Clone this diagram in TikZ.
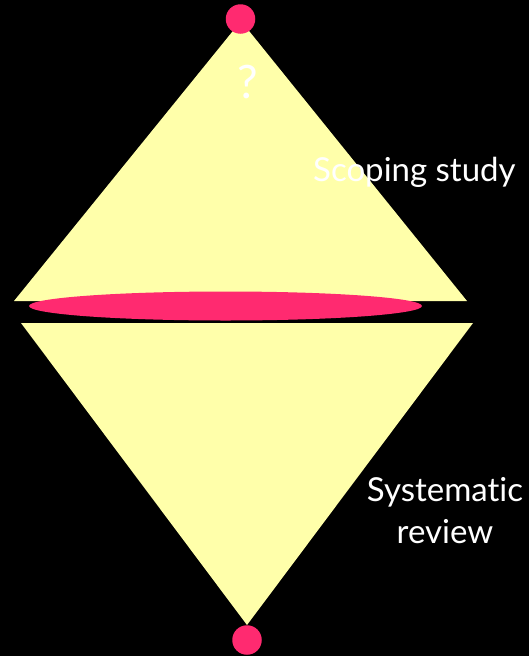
\documentclass[tikz,border=0pt]{standalone}
\usepackage{fontspec}
\setmainfont{Lato}[Ligatures=NoCommon]
\usetikzlibrary{shapes.geometric}
\definecolor{coneyellow}{RGB}{255,255,170}
\definecolor{dotpink}{RGB}{255,42,112}
\tikzset{
  cone/.style={fill=coneyellow, draw=none},
  dot/.style={circle, fill=dotpink, draw=none, inner sep=0pt, minimum size=29.5pt},
  label/.style={text=white, inner sep=0pt}
}
\begin{document}
\begin{tikzpicture}[x=1pt, y=-1pt]
\fill[black] (0,0) rectangle (529,656);
\useasboundingbox (0,0) rectangle (529,656);
% upper and lower triangles
\coordinate (topapex) at (241,21);
\coordinate (upleft) at (14,301);
\coordinate (upright) at (467,301);
\coordinate (lowleft) at (21,323);
\coordinate (lowright) at (473,323);
\coordinate (lowapex) at (247,625);
\fill[cone] (topapex) -- (upleft) -- (upright) -- cycle;
\fill[cone] (lowleft) -- (lowright) -- (lowapex) -- cycle;
% disc between them
\node[ellipse, fill=dotpink, inner sep=0pt, minimum width=393pt, minimum height=29pt] (disc) at (225.5,306) {};
\node[dot] (topdot) at (240.5,19) {};
\node[dot] (bottomdot) at (247,640) {};
% texts
\node[label, font=\fontsize{46}{50}\selectfont] (question) at (248,82) {?};
\node[label, anchor=base west, font=\fontsize{33}{40}\selectfont] (scoping) at (313,181.5) {Scoping study};
\node[label, align=center, font=\fontsize{33}{42}\selectfont] (systematic) at (445,511) {Systematic\\review};
\end{tikzpicture}
\end{document}
